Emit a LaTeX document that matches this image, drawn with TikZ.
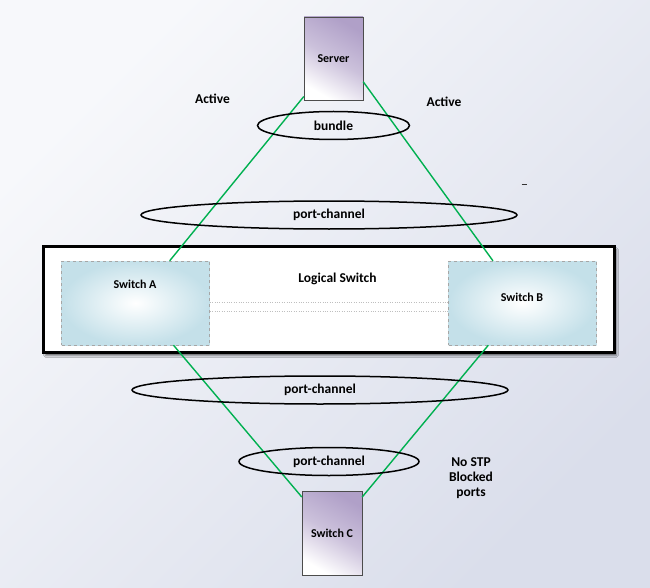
\documentclass[tikz,border=0pt]{standalone}
\usepackage{fontspec}
\setmainfont{Carlito}
\usetikzlibrary{shapes.geometric,shadows.blur}

\definecolor{linkgreen}{RGB}{0,176,80}
\definecolor{boxlilac}{RGB}{176,160,200}
\definecolor{swblue}{RGB}{196,224,233}
\definecolor{bglight}{RGB}{247,248,251}
\definecolor{bgdark}{RGB}{218,222,235}

\tikzset{
	device/.style = {draw = gray!60!black, inner sep = 0pt, minimum width = 59pt, minimum height = 83pt, top color = boxlilac, bottom color = white, middle color = boxlilac!65!white, shading angle = -30, font = \bfseries\fontsize{12}{13}\selectfont},
	switchbox/.style = {draw = gray!70, dashed, inner sep = 0pt, minimum width = 148pt, minimum height = 84pt, inner color = white, outer color = swblue},
	boxtag/.style = {font = \bfseries\fontsize{12}{13}\selectfont},
	bundlering/.style = {draw, ellipse, line width = 1.5pt, inner sep = 0pt, minimum height = 28pt, font = \bfseries\fontsize{13.5}{15}\selectfont},
	tag/.style = {font = \bfseries\fontsize{13.5}{15}\selectfont, align = center},
	link/.style = {draw = linkgreen, line width = 1.4pt}
}

\begin{document}
\begin{tikzpicture}[x = 1pt, y = -1pt]
	 \useasboundingbox (0, 0) rectangle (650, 588);
	 \shade[top color = bglight, bottom color = bgdark, shading angle = 45] (0, 0) rectangle (650, 588);
	 
	 \node[draw, line width = 3pt, fill = white, minimum width = 571pt, minimum height = 106pt, blur shadow = {shadow xshift = 2pt, shadow yshift = -3pt, shadow opacity = 60}] (logical) at (329, 299.5) {};
	 \node[tag] (logicaltag) at (337.5, 279) {Logical Switch};
	 
	 \node[switchbox] (swA) at (135.5, 303) {};
	 \node[switchbox] (swB) at (522.5, 303) {};
	 \node[boxtag] (swAtag) at (135, 284) {Switch A};
	 \node[boxtag] (swBtag) at (522, 297) {Switch B};
	 
	 \draw[gray!50, dotted] ([yshift = 0.5pt]swA.east) -- ([yshift = 0.5pt]swB.west);
	 \draw[gray!50, dotted] ([yshift = -8.5pt]swA.east) -- ([yshift = -8.5pt]swB.west);
	 
	 \node[device] (server) at (333.5, 58.5) {Server};
	 \node[device, minimum width = 60pt, minimum height = 84pt] (swC) at (332, 533) {Switch C};
	 
	 \draw[link] (server.232) -- (swA.51);
	 \draw[link] (server.-38) -- (swB.125);
	 \draw[link] (swA.-48) -- (swC.130);
	 \draw[link] (swB.231) -- (swC.50);
	 
	 \node[bundlering, minimum width = 152pt] (bundle) at (333.5, 125.5) {bundle};
	 \node[bundlering, minimum width = 376pt] (pcup) at (329, 215) {port-channel};
	 \node[bundlering, minimum width = 376pt] (pcdown) at (320, 390) {port-channel};
	 \node[bundlering, minimum width = 180pt] (pcswc) at (329, 461.5) {port-channel};
	 
	 \node[tag] (activeA) at (212.5, 99) {Active};
	 \node[tag] (activeB) at (444, 102) {Active};
	 \node[tag] (nostp) at (471, 478) {No STP\\Blocked\\ports};
	 
	 \draw[gray!40!black, line width = 0.8pt] (521.5, 184) -- (526.5, 184);
\end{tikzpicture}
\end{document}
